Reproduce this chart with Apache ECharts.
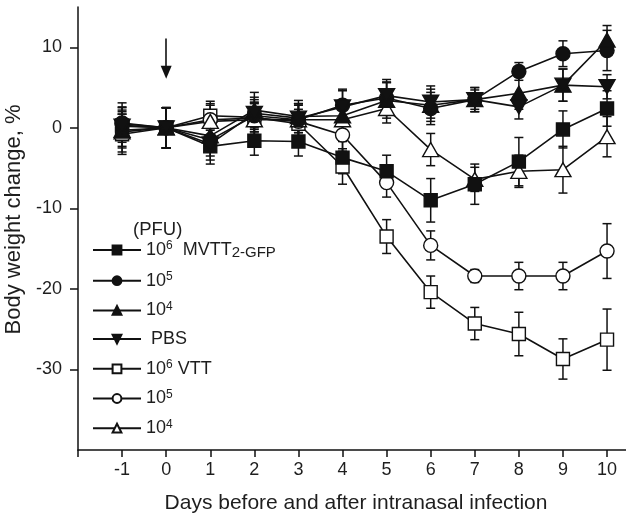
<!DOCTYPE html>
<html>
<head>
<meta charset="utf-8">
<script src="https://cdn.jsdelivr.net/npm/echarts@6/dist/echarts.min.js"></script>
<style>
html,body{margin:0;padding:0;background:#fff;}
#chart{width:626px;height:515px;}
</style>
</head>
<body>
<div id="chart"></div>
<script>
// ---- data ----
const days = [-1, 0, 1, 2, 3, 4, 5, 6, 7, 8, 9, 10];
const xTicks = [-2, -1, 0, 1, 2, 3, 4, 5, 6, 7, 8, 9, 10];
const yTicks = [-30, -20, -10, 0, 10];

const seriesNames = ['MVTT 10^6', 'MVTT 10^5', 'MVTT 10^4', 'PBS', 'VTT 10^6', 'VTT 10^5', 'VTT 10^4'];
const legendLabels = [
  '{b|10}{s|6}{b|  MVTT}{u|2-GFP}',
  '{b|10}{s|5}',
  '{b|10}{s|4}',
  '{b| PBS}',
  '{b|10}{s|6}{b| VTT}',
  '{b|10}{s|5}',
  '{b|10}{s|4}'
];

const mvtt6 = [0.3, 0, -2.3, -1.6, -1.7, -3.7, -5.4, -9.0, -7.0, -4.2, -0.2, 2.4];
const mvtt6Err = [2.8, 2.5, 2.2, 1.8, 1.8, 2.0, 2.0, 2.7, 2.5, 3.0, 2.3, 2.2];
const mvtt5 = [0.5, 0, -1.5, 1.5, 1.0, 2.8, 3.7, 2.4, 3.5, 7.0, 9.2, 9.6];
const mvtt5Err = [2.0, 2.5, 2.0, 2.0, 2.0, 2.0, 2.0, 2.0, 1.2, 1.1, 1.6, 2.5];
const mvtt4 = [-0.3, 0, -1.0, 2.2, 1.4, 1.5, 3.4, 2.8, 3.5, 4.3, 5.3, 10.9];
const mvtt4Err = [2.0, 2.5, 2.0, 2.2, 2.0, 2.0, 2.2, 2.0, 1.5, 2.0, 2.0, 1.8];
const pbs = [0.2, 0, -2.0, 1.8, 1.2, 2.6, 4.0, 3.2, 3.5, 2.6, 5.3, 5.1];
const pbsErr = [2.0, 2.5, 2.0, 2.0, 1.8, 2.0, 2.0, 2.0, 1.5, 1.5, 2.0, 1.5];
const vtt6 = [-0.8, 0, 1.5, 1.3, 0.5, -4.8, -13.5, -20.4, -24.3, -25.6, -28.7, -26.3];
const vtt6Err = [2.5, 2.5, 1.8, 1.8, 1.8, 2.2, 2.1, 2.0, 2.0, 2.7, 2.5, 3.8];
const vtt5 = [0.6, 0, 1.0, 1.2, 0.8, -0.9, -6.8, -14.6, -18.4, -18.4, -18.4, -15.3];
const vtt5Err = [2.0, 2.5, 2.0, 2.0, 2.0, 2.0, 1.8, 1.8, 0.8, 1.7, 1.7, 3.4];
const vtt4 = [-0.5, 0, 0.8, 1.0, 1.0, 1.0, 2.4, -2.7, -6.4, -5.4, -5.2, -1.1];
const vtt4Err = [2.5, 2.5, 2.0, 2.0, 2.0, 1.8, 1.8, 2.0, 1.5, 2.0, 2.9, 2.5];

const arrowDay = 0;
const arrowFrom = 11.1;
const arrowTo = 6.9;

// ---- styling ----
const INK = '#111';
const FONT = '"Liberation Sans", Arial, Helvetica, sans-serif';
const TXT = '#1e1e1e';

const groups = [
  { v: mvtt6, e: mvtt6Err, symbol: 'rect', size: 13, fill: INK },
  { v: mvtt5, e: mvtt5Err, symbol: 'circle', size: 14, fill: INK },
  { v: mvtt4, e: mvtt4Err, symbol: 'triangle', size: [16, 14], fill: INK },
  { v: pbs, e: pbsErr, symbol: 'path://M0,0L10,0L5,9Z', size: [16, 14], fill: INK },
  { v: vtt6, e: vtt6Err, symbol: 'rect', size: 13, fill: '#fff' },
  { v: vtt5, e: vtt5Err, symbol: 'circle', size: 14, fill: '#fff' },
  { v: vtt4, e: vtt4Err, symbol: 'triangle', size: [16, 14], fill: '#fff' }
];

function renderErr(params, api) {
  const x = api.value(0), lo = api.value(1), hi = api.value(2);
  const p1 = api.coord([x, hi]);
  const p2 = api.coord([x, lo]);
  const w = 4.5;
  const st = { stroke: INK, lineWidth: 1.5 };
  return {
    type: 'group',
    children: [
      { type: 'line', shape: { x1: p1[0], y1: p1[1], x2: p2[0], y2: p2[1] }, style: st },
      { type: 'line', shape: { x1: p1[0] - w, y1: p1[1], x2: p1[0] + w, y2: p1[1] }, style: st },
      { type: 'line', shape: { x1: p2[0] - w, y1: p2[1], x2: p2[0] + w, y2: p2[1] }, style: st }
    ]
  };
}

const series = [];
groups.forEach((g, i) => {
  series.push({
    name: 'err' + i,
    type: 'custom',
    renderItem: renderErr,
    z: 1,
    silent: true,
    encode: { x: 0, y: [1, 2] },
    data: days.map((d, k) => [d, g.v[k] - g.e[k], g.v[k] + g.e[k]])
  });
});
groups.forEach((g, i) => {
  const s = {
    name: seriesNames[i],
    type: 'line',
    z: 3 + (g.fill === INK ? 1 : 0),
    symbol: g.symbol,
    symbolSize: g.size,
    showAllSymbol: true,
    itemStyle: { color: g.fill, borderColor: INK, borderWidth: 1.4, opacity: 1 },
    lineStyle: { color: INK, width: 1.6 },
    emphasis: { disabled: true },
    data: days.map((d, k) => [d, g.v[k]])
  };
  if (i === 0) {
    s.markLine = {
      silent: true,
      symbol: ['none', 'triangle'],
      symbolSize: [11, 13],
      label: { show: false },
      lineStyle: { color: INK, width: 1.6, type: 'solid' },
      data: [[{ coord: [arrowDay, arrowFrom] }, { coord: [arrowDay, arrowTo] }]]
    };
  }
  series.push(s);
});

const chart = echarts.init(document.getElementById('chart'), null, { renderer: 'canvas' });
chart.setOption({
  animation: false,
  backgroundColor: '#fff',
  textStyle: { fontFamily: FONT },
  grid: { left: 78, right: 0, top: 7, bottom: 65, containLabel: false, outerBoundsMode: 'none' },
  xAxis: {
    type: 'value',
    min: -2,
    max: 10.43,
    interval: 1,
    name: 'Days before and after intranasal infection',
    nameLocation: 'middle',
    nameGap: 43,
    nameTextStyle: { fontSize: 21, color: TXT, fontFamily: FONT, padding: [0, 0, 0, 8] },
    axisLine: { show: true, onZero: false, lineStyle: { color: INK, width: 1.5 } },
    axisTick: { show: true, inside: false, length: 7, lineStyle: { color: INK, width: 1.5 }, customValues: xTicks },
    axisLabel: {
      fontSize: 18, color: TXT, margin: 11, fontFamily: FONT,
      customValues: xTicks.filter(v => v >= -1),
      formatter: v => String(v)
    },
    splitLine: { show: false }
  },
  yAxis: {
    type: 'value',
    min: -40,
    max: 15,
    interval: 10,
    name: 'Body weight change, %',
    nameLocation: 'middle',
    nameGap: 47,
    nameTextStyle: { fontSize: 22, color: TXT, fontFamily: FONT, padding: [0, 0, 0, 18] },
    axisLine: { show: true, onZero: false, lineStyle: { color: INK, width: 1.5 } },
    axisTick: { show: true, inside: false, length: 8, lineStyle: { color: INK, width: 1.5 }, customValues: yTicks },
    axisLabel: {
      fontSize: 18, color: TXT, margin: 16, fontFamily: FONT,
      customValues: yTicks,
      formatter: v => String(v)
    },
    splitLine: { show: false }
  },
  legend: {
    data: seriesNames,
    orient: 'vertical',
    left: 92,
    top: 240,
    itemWidth: 48,
    itemHeight: 11,
    itemGap: 10.7,
    padding: 0,
    selectedMode: false,
    formatter: name => legendLabels[seriesNames.indexOf(name)],
    textStyle: {
      fontFamily: FONT,
      color: TXT,
      padding: [0, 0, 0, 0],
      rich: {
        b: { fontSize: 18, lineHeight: 20, color: TXT, fontFamily: FONT },
        s: { fontSize: 12, lineHeight: 11, verticalAlign: 'top', color: TXT, fontFamily: FONT },
        u: { fontSize: 15, lineHeight: 12, verticalAlign: 'bottom', color: TXT, fontFamily: FONT }
      }
    }
  },
  graphic: [
    { type: 'text', left: 133, top: 220, style: { text: '(PFU)', fontSize: 18.5, fill: TXT, fontFamily: FONT } }
  ],
  series: series
});
</script>
</body>
</html>
